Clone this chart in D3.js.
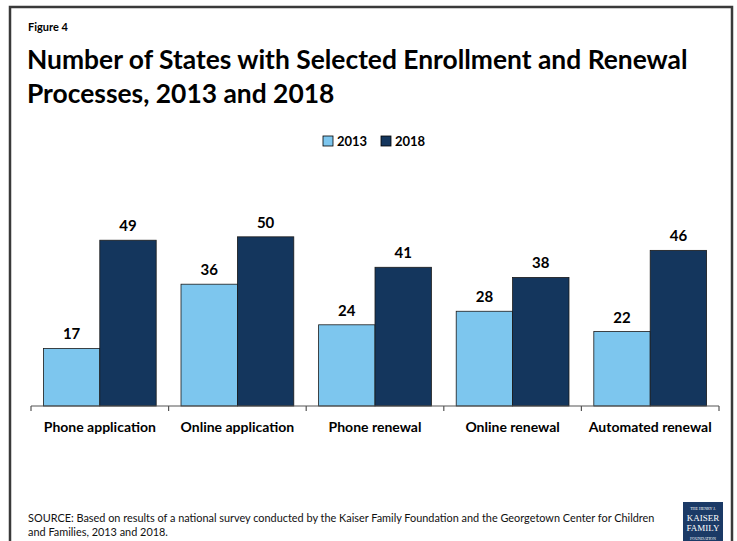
<!DOCTYPE html>
<html>
<head>
<meta charset="utf-8">
<script src="https://cdn.jsdelivr.net/npm/d3@7"></script>
<style>
  body { margin: 0; background: #fff; }
  svg { display: block; font-family: Lato, "Open Sans", sans-serif; }
</style>
</head>
<body>
<svg id="chart" width="737" height="541"></svg>
<script>
const categories = ['Phone application', 'Online application', 'Phone renewal', 'Online renewal', 'Automated renewal'];
const seriesNames = ['2013', '2018'];
const values2013 = [17, 36, 24, 28, 22];
const values2018 = [49, 50, 41, 38, 46];
const colors = ['#7DC6EE', '#14365D'];

const svg = d3.select('#chart');

// frame
svg.append('path')
  .attr('d', 'M10,545 V7 H732 V545')
  .attr('fill', 'none')
  .attr('stroke', '#3a3a3a')
  .attr('stroke-width', 2.5);

svg.append('text')
  .attr('x', 28).attr('y', 31)
  .attr('font-size', 11).attr('font-weight', 700)
  .text('Figure 4');

const title = svg.append('text')
  .attr('x', 27)
  .attr('font-size', 26.4).attr('font-weight', 700)
  .attr('fill', '#000');
title.append('tspan').attr('x', 27).attr('y', 69).text('Number of States with Selected Enrollment and Renewal');
title.append('tspan').attr('x', 27).attr('y', 103).text('Processes, 2013 and 2018');

// legend
const legend = svg.append('g').attr('transform', 'translate(323,136)');
const legendX = [0, 58];
seriesNames.forEach((s, i) => {
  const g = legend.append('g').attr('transform', `translate(${legendX[i]},0)`);
  g.append('rect')
    .attr('width', 10).attr('height', 10)
    .attr('fill', colors[i])
    .attr('stroke', '#000').attr('stroke-width', 0.8);
  g.append('text')
    .attr('x', 14).attr('y', 10)
    .attr('font-size', 13).attr('font-weight', 700)
    .text(s);
});

// scales
const x0 = d3.scaleBand().domain(categories).range([31, 719]).paddingInner(0).paddingOuter(0);
const x1 = d3.scaleBand().domain(seriesNames).range([0, x0.bandwidth()]).paddingOuter(0.22).paddingInner(0);
const y = d3.scaleLinear().domain([0, 60]).range([406, 203]);

const groups = svg.selectAll('.cat')
  .data(categories)
  .enter()
  .append('g')
  .attr('class', 'cat')
  .attr('transform', d => `translate(${x0(d)},0)`);

groups.each(function(c, i) {
  const g = d3.select(this);
  const vals = [values2013[i], values2018[i]];
  seriesNames.forEach((s, j) => {
    g.append('rect')
      .attr('x', x1(s))
      .attr('y', y(vals[j]))
      .attr('width', x1.bandwidth())
      .attr('height', y(0) - y(vals[j]))
      .attr('fill', colors[j])
      .attr('stroke', '#1a1a1a')
      .attr('stroke-width', 0.8);
    g.append('text')
      .attr('x', x1(s) + x1.bandwidth() / 2)
      .attr('y', y(vals[j]) - 9)
      .attr('text-anchor', 'middle')
      .attr('font-size', 15).attr('font-weight', 700)
      .text(vals[j]);
  });
});

// axis
const axis = svg.append('g').attr('transform', 'translate(0,406)');
axis.append('line')
  .attr('x1', 31).attr('x2', 719)
  .attr('stroke', '#555').attr('stroke-width', 1.2);
const tickPos = categories.map(c => x0(c)).concat([x0.range()[1]]);
axis.selectAll('.tick')
  .data(tickPos)
  .enter()
  .append('line')
  .attr('x1', d => d).attr('x2', d => d)
  .attr('y1', 0).attr('y2', 5)
  .attr('stroke', '#555').attr('stroke-width', 1.2);
axis.selectAll('.lbl')
  .data(categories)
  .enter()
  .append('text')
  .attr('x', d => x0(d) + x0.bandwidth() / 2)
  .attr('y', 26)
  .attr('text-anchor', 'middle')
  .attr('font-size', 14).attr('font-weight', 700)
  .text(d => d);

// source
const src = svg.append('text').attr('font-size', 10.9).attr('fill', '#111');
src.append('tspan').attr('x', 28).attr('y', 522)
  .text('SOURCE: Based on results of a national survey conducted by the Kaiser Family Foundation and the Georgetown Center for Children');
src.append('tspan').attr('x', 28).attr('y', 536).text('and Families, 2013 and 2018.');

// logo
const logo = svg.append('g').attr('transform', 'translate(683,502)');
logo.append('rect').attr('width', 40).attr('height', 45).attr('fill', '#1B3A66');
const logoText = [['THE HENRY J.', 4, 8], ['KAISER', 9, 19], ['FAMILY', 9, 29], ['FOUNDATION', 4, 38]];
logoText.forEach(t => {
  logo.append('text')
    .attr('x', 20).attr('y', t[2])
    .attr('text-anchor', 'middle')
    .attr('font-family', '"Liberation Serif", serif')
    .attr('font-size', t[1])
    .attr('fill', '#fff')
    .text(t[0]);
});
</script>
</body>
</html>
